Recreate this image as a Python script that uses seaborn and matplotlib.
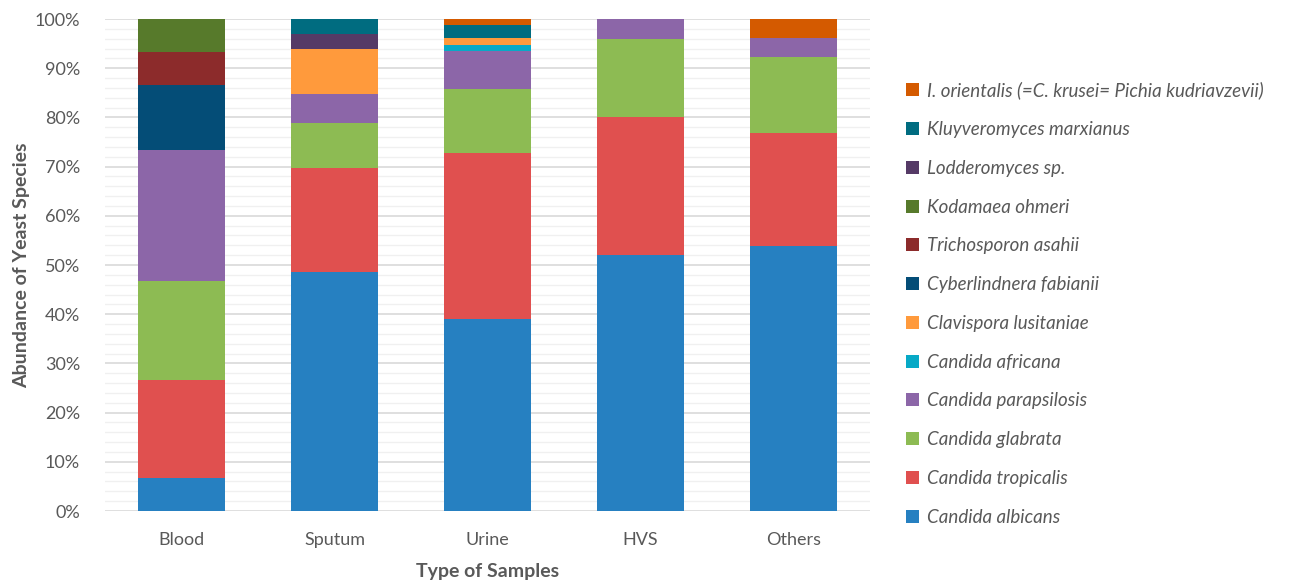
import matplotlib
matplotlib.use("Agg")
import matplotlib.pyplot as plt
from matplotlib.patches import Patch
from matplotlib.ticker import MultipleLocator, PercentFormatter
import pandas as pd
import seaborn as sns

# Sample types on the x axis
samples = ["Blood", "Sputum", "Urine", "HVS", "Others"]

# Species, listed from top of the stack to the bottom
species = [
    "I. orientalis (=C. krusei= Pichia kudriavzevii)",
    "Kluyveromyces marxianus",
    "Lodderomyces sp.",
    "Kodamaea ohmeri",
    "Trichosporon asahii",
    "Cyberlindnera fabianii",
    "Clavispora lusitaniae",
    "Candida africana",
    "Candida parapsilosis",
    "Candida glabrata",
    "Candida tropicalis",
    "Candida albicans",
]

# Percentage of isolates per sample type (Blood, Sputum, Urine, HVS, Others)
i_orientalis = [0.00, 0.00, 1.30, 0.00, 3.85]
k_marxianus = [0.00, 3.03, 2.60, 0.00, 0.00]
lodderomyces = [0.00, 3.03, 0.00, 0.00, 0.00]
k_ohmeri = [6.67, 0.00, 0.00, 0.00, 0.00]
t_asahii = [6.67, 0.00, 0.00, 0.00, 0.00]
c_fabianii = [13.33, 0.00, 0.00, 0.00, 0.00]
c_lusitaniae = [0.00, 9.09, 1.30, 0.00, 0.00]
c_africana = [0.00, 0.00, 1.30, 0.00, 0.00]
c_parapsilosis = [26.67, 6.06, 7.79, 4.00, 3.85]
c_glabrata = [20.00, 9.09, 12.99, 16.00, 15.38]
c_tropicalis = [20.00, 21.21, 33.77, 28.00, 23.08]
c_albicans = [6.67, 48.48, 38.96, 52.00, 53.85]

series = [
    i_orientalis, k_marxianus, lodderomyces, k_ohmeri, t_asahii, c_fabianii,
    c_lusitaniae, c_africana, c_parapsilosis, c_glabrata, c_tropicalis, c_albicans,
]

colors = [
    "#D45A00", "#006C80", "#553A66", "#577A2B", "#8C2B2B", "#044D77",
    "#FF9A3C", "#07A9C6", "#8C66A8", "#8DBB53", "#E0504F", "#2680C1",
]

rows = []
for name, vals in zip(species, series):
    for s, v in zip(samples, vals):
        rows.append({"Sample": s, "Species": name, "Pct": v})
df = pd.DataFrame(rows)
df["Sample"] = pd.Categorical(df["Sample"], categories=samples, ordered=True)

plt.rcParams["font.family"] = ["Lato", "DejaVu Sans"]

fig = plt.figure(figsize=(12.91, 5.85), dpi=100)
ax = fig.add_axes([105 / 1291, 1 - 511 / 585, 765 / 1291, 492 / 585])

sns.histplot(
    data=df, x="Sample", weights="Pct", hue="Species", hue_order=species,
    palette=colors, multiple="stack", discrete=True, shrink=0.57,
    linewidth=0, alpha=1, ax=ax, legend=False, zorder=3,
)

ax.set_xlim(-0.5, len(samples) - 0.5)
ax.set_ylim(0, 100)
ax.yaxis.set_major_locator(MultipleLocator(10))
ax.yaxis.set_minor_locator(MultipleLocator(2))
ax.yaxis.set_major_formatter(PercentFormatter(decimals=0))
ax.grid(axis="y", which="major", color="#D9D9D9", linewidth=1.2, zorder=0)
ax.grid(axis="y", which="minor", color="#F0F0F0", linewidth=1.0, zorder=0)
ax.grid(axis="x", visible=False)
ax.set_axisbelow(True)
for sp in ax.spines.values():
    sp.set_visible(False)
ax.tick_params(axis="both", which="both", length=0, labelsize=13,
               labelcolor="#595959")
ax.tick_params(axis="x", pad=15)
ax.tick_params(axis="y", pad=18)

ax.set_xlabel("Type of Samples", fontsize=14, fontweight="bold",
              color="#595959", labelpad=11)
ax.set_ylabel("Abundance of Yeast Species", fontsize=14, fontweight="bold",
              color="#595959", labelpad=3)

handles = [Patch(facecolor=c, edgecolor="none") for c in colors]
leg = fig.legend(
    handles, species, loc="upper left", bbox_to_anchor=(898 / 1291, 1 - 74 / 585),
    frameon=False, prop={"style": "italic", "size": 13.5},
    handlelength=0.7, handleheight=0.7, handletextpad=0.45,
    labelspacing=1.16, borderaxespad=0,
)
for t in leg.get_texts():
    t.set_color("#595959")

fig.savefig("out.png", dpi=100)
